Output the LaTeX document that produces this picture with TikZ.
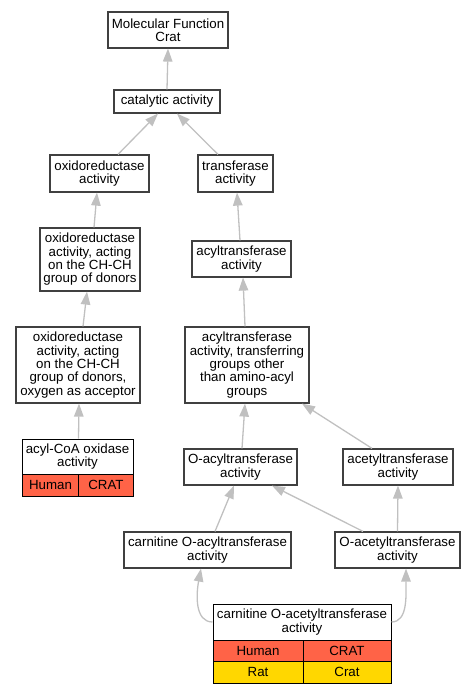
\documentclass[tikz,border=0pt]{standalone}
\usepackage{fontspec}
\setmainfont{Liberation Sans}
\usetikzlibrary{arrows.meta}
\definecolor{edgegray}{RGB}{192,192,192}
\definecolor{boxline}{RGB}{64,64,64}
\definecolor{humanred}{RGB}{255,99,71}
\definecolor{ratgold}{RGB}{255,215,0}
\tikzset{
  box/.style={draw=boxline, line width=1.2pt, fill=white, inner sep=0pt, align=center,
    font=\fontsize{13.3}{13.3}\selectfont},
  cell/.style={draw=black, line width=1pt, inner sep=0pt, align=center,
    font=\fontsize{13.3}{13.3}\selectfont},
  isa/.style={draw=edgegray, line width=1.3pt, -{Triangle[length=13pt,width=9.5pt]}},
}
\begin{document}
\begin{tikzpicture}[x=1pt,y=-1pt]
\useasboundingbox (0,0) rectangle (475,693);
% nodes
\node[box, minimum width=120, minimum height=36] (mf) at (168,30) {Molecular Function\\Crat};
\node[box, minimum width=106, minimum height=23] (cat) at (167,101.5) {catalytic activity};
\node[box, minimum width=99, minimum height=37] (oxi) at (99.5,173.5) {oxidoreductase\\activity};
\node[box, minimum width=75, minimum height=37] (tra) at (235.5,173.5) {transferase\\activity};
\node[box, minimum width=100, minimum height=63] (chch) at (90,259.5) {oxidoreductase\\activity, acting\\on the CH-CH\\group of donors};
\node[box, minimum width=99, minimum height=36] (acy) at (241.5,259) {acyltransferase\\activity};
\node[box, minimum width=124, minimum height=76] (oxy) at (78,365) {oxidoreductase\\activity, acting\\on the CH-CH\\group of donors,\\oxygen as acceptor};
\node[box, minimum width=124, minimum height=76] (tgo) at (247,365) {acyltransferase\\activity, transferring\\groups other\\than amino-acyl\\groups};
% acyl-CoA oxidase table
\node[cell, fill=white, minimum width=111, minimum height=35] (acoa) at (77.5,456.5) {acyl-CoA oxidase\\activity};
\node[cell, fill=humanred, minimum width=56.5, minimum height=22] (acoah) at (50.5,485) {Human};
\node[cell, fill=humanred, minimum width=54.5, minimum height=22] (acoag) at (106,485) {CRAT};
\node[box, minimum width=113, minimum height=36] (oac) at (240.5,467) {O-acyltransferase\\activity};
\node[box, minimum width=110, minimum height=36] (ace) at (398,467) {acetyltransferase\\activity};
\node[box, minimum width=167, minimum height=36] (cac) at (207.5,550) {carnitine O-acyltransferase\\activity};
\node[box, minimum width=125, minimum height=36] (oace) at (397.5,550) {O-acetyltransferase\\activity};
% carnitine O-acetyltransferase table
\node[cell, fill=white, minimum width=178, minimum height=36] (cat2) at (302,622) {carnitine O-acetyltransferase\\activity};
\node[cell, fill=humanred, minimum width=90, minimum height=21] (cat2h) at (258,650.5) {Human};
\node[cell, fill=humanred, minimum width=88, minimum height=21] (cat2g) at (347,650.5) {CRAT};
\node[cell, fill=ratgold, minimum width=90, minimum height=22] (cat2r) at (258,672) {Rat};
\node[cell, fill=ratgold, minimum width=88, minimum height=22] (cat2c) at (347,672) {Crat};
% edges
\draw[isa] (cat.north) -- (mf.south);
\draw[isa] ([xshift=18.5]oxi.north) -- ([xshift=-9]cat.south);
\draw[isa] ([xshift=-17.5]tra.north) -- ([xshift=10]cat.south);
\draw[isa] ([xshift=4]chch.north) -- ([xshift=-2.5]oxi.south);
\draw[isa] ([xshift=-1.5]acy.north) -- ([xshift=1.5]tra.south);
\draw[isa] ([xshift=5]oxy.north) -- ([xshift=-3]chch.south);
\draw[isa] ([xshift=-2]tgo.north) -- ([xshift=1.5]acy.south);
\draw[isa] ([xshift=1]acoa.north) -- ([xshift=1]oxy.south);
\draw[isa] ([xshift=1.5]oac.north) -- ([xshift=-2]tgo.south);
\draw[isa] ([xshift=-26]ace.north) -- ([xshift=55]tgo.south);
\draw[isa] ([xshift=-34.5]oace.north) -- ([xshift=31.5]oac.south);
\draw[isa] (oace.north) -- (ace.south);
\draw[isa] ([xshift=7.5]cac.north) -- ([xshift=-6.5]oac.south);
\draw[isa] (cat2.west) .. controls (195,622) and (196,595) .. ([xshift=-6.5]cac.south);
\draw[isa] (cat2.east) .. controls (408,622) and (406,595) .. ([xshift=8.5]oace.south);
\end{tikzpicture}
\end{document}
